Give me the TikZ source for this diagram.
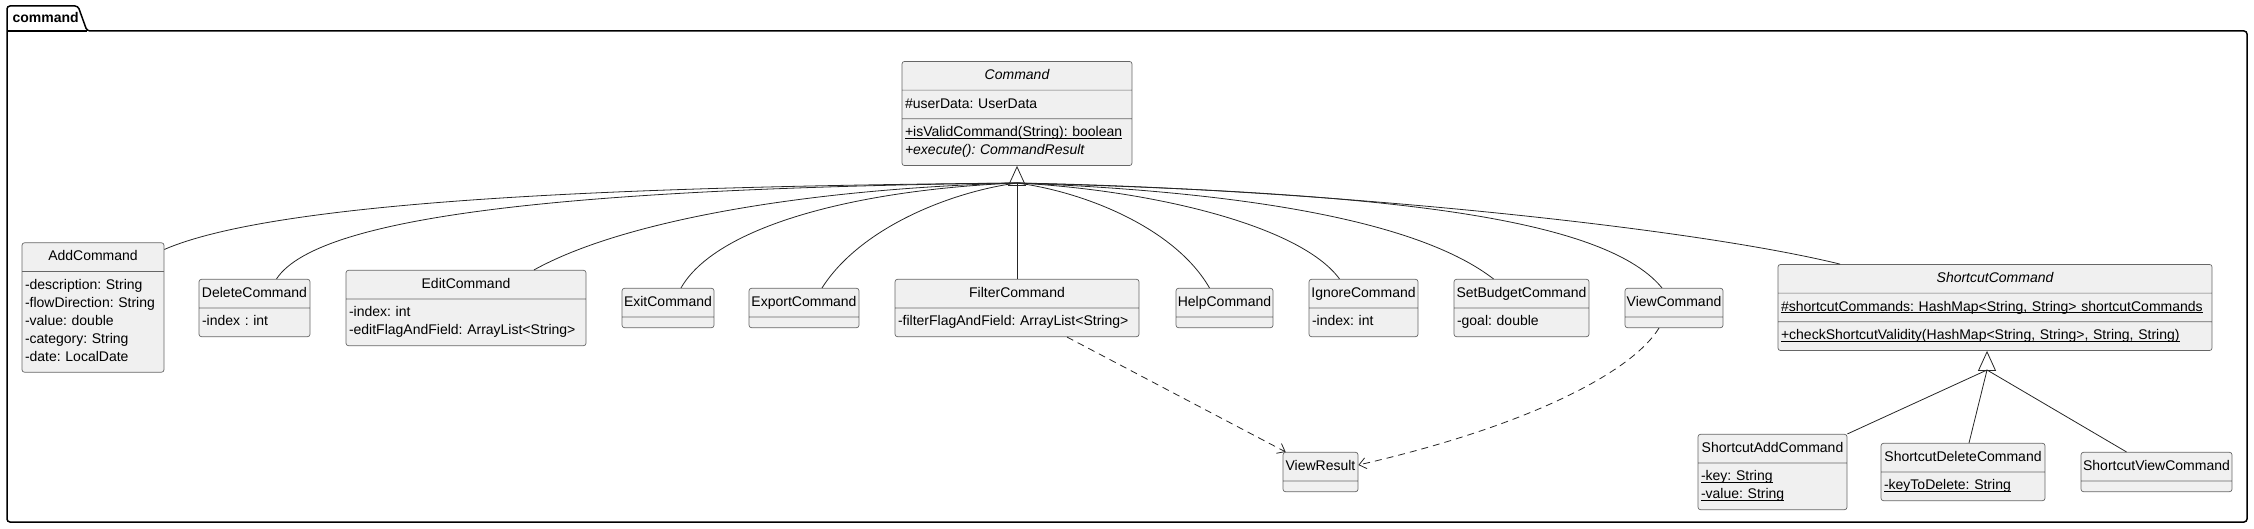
\documentclass[tikz,border=0pt]{standalone}
\usepackage{fontspec}
\setmainfont{Liberation Sans}
\usetikzlibrary{shapes.multipart,arrows.meta}
\frenchspacing

\newcommand{\ttl}[1]{\makebox[\linewidth]{\strut #1}}
\newcommand{\stc}[1]{\underline{\smash{#1}}}

\begin{document}
\begin{tikzpicture}[x=1pt,y=-1pt,>={Straight Barb[length=7pt,width=11pt]}]
	\tikzstyle{cls}=[rectangle split,rectangle split parts=2,draw=black!60,line width=0.7pt,fill=black!6,rounded corners=2.5pt,inner xsep=3pt,inner ysep=5pt,align=left,font=\fontsize{14pt}{18pt}\selectfont]
	\tikzstyle{cls3}=[cls,rectangle split parts=3]
	\tikzstyle{inh}=[draw=black!85,line width=0.8pt]
	\tikzstyle{gen}=[inh,-{Triangle[open,length=20pt,width=18pt]}]
	\tikzstyle{dep}=[inh,dash pattern=on 7pt off 5pt,->]
	\tikzstyle{pkg}=[line width=1.5pt,rounded corners=3pt]

	\useasboundingbox (0,0) rectangle (2254,529);

	% package frame
	\draw[pkg] (87,31) -- (78,6) -- (7,6) -- (7,522) -- (2247,522) -- (2247,31) -- cycle;
	\draw[line width=1.5pt] (7,31) -- (87,31);
	\node[anchor=west,font=\bfseries\fontsize{14pt}{16pt}\selectfont] (pkg) at (9,18) {command};

	\node[cls3,text width=224pt] (Command) at (1017,113.5)
	{
		\ttl{\itshape Command}
		\nodepart{second}\strut\#userData: UserData
		\nodepart{third}\strut\stc{+isValidCommand(String): boolean}\\
		\strut\itshape +execute(): CommandResult
	};

	\node[cls,text width=136pt] (AddCommand) at (93,307.5)
	{
		\ttl{AddCommand}
		\nodepart{second}\strut-description: String\\ \strut-flowDirection: String\\
		\strut-value: double\\ \strut-category: String\\ \strut-date: LocalDate
	};
	\node[cls,text width=105pt] (DeleteCommand) at (254.5,308) {\ttl{DeleteCommand}\nodepart{second}\strut-index : int};
	\node[cls,text width=234pt] (EditCommand) at (466,308)
	{
		\ttl{EditCommand}
		\nodepart{second}\strut-index: int\\ \strut-editFlagAndField: ArrayList<String>
	};
	\node[cls,text width=86pt] (ExitCommand) at (668,308) {\ttl{ExitCommand}\nodepart{second}};
	\node[cls,text width=104pt] (ExportCommand) at (804,308) {\ttl{ExportCommand}\nodepart{second}};
	\node[cls,text width=238pt] (FilterCommand) at (1017,308) {\ttl{FilterCommand}\nodepart{second}\strut-filterFlagAndField: ArrayList<String>};
	\node[cls,text width=91pt] (HelpCommand) at (1224.5,308) {\ttl{HelpCommand}\nodepart{second}};
	\node[cls,text width=103pt] (IgnoreCommand) at (1363.5,308) {\ttl{IgnoreCommand}\nodepart{second}\strut-index: int};
	\node[cls,text width=129pt] (SetBudgetCommand) at (1521.5,308) {\ttl{SetBudgetCommand}\nodepart{second}\strut-goal: double};
	\node[cls,text width=92pt] (ViewCommand) at (1674,308) {\ttl{ViewCommand}\nodepart{second}};
	\node[cls3,text width=428pt] (ShortcutCommand) at (1995,307.5)
	{
		\ttl{\itshape ShortcutCommand}
		\nodepart{second}\strut\stc{\#shortcutCommands: HashMap<String, String> shortcutCommands}
		\nodepart{third}\strut\stc{+checkShortcutValidity(HashMap<String, String>, String, String)}
	};

	\node[cls,text width=69pt] (ViewResult) at (1320.5,472) {\ttl{ViewResult}\nodepart{second}};
	\node[cls,text width=143pt] (ShortcutAddCommand) at (1772.5,472)
	{
		\ttl{ShortcutAddCommand}
		\nodepart{second}\strut\stc{-key: String}\\ \strut\stc{-value: String}
	};
	\node[cls,text width=158pt] (ShortcutDeleteCommand) at (1963,472) {\ttl{ShortcutDeleteCommand}\nodepart{second}\strut\stc{-keyToDelete: String}};
	\node[cls,text width=145pt] (ShortcutViewCommand) at (2156.5,472) {\ttl{ShortcutViewCommand}\nodepart{second}};

	% inheritance
	\coordinate (cmdbase) at (1017,183);
	\coordinate (scbase) at (1987,370);
	\draw[gen] (cmdbase) -- (Command.south);
	\draw[gen] (scbase) -- (scbase |- ShortcutCommand.south);

	\draw[inh] ([yshift=-7pt]AddCommand.north east) .. controls (290,195) and (700,186) .. (cmdbase);
	\draw[inh] ([xshift=22pt]DeleteCommand.north) .. controls (320,212) and (600,188) .. (cmdbase);
	\draw[inh] ([xshift=68pt]EditCommand.north) .. controls (620,222) and (800,189) .. (cmdbase);
	\draw[inh] ([xshift=13pt]ExitCommand.north) .. controls (715,228) and (850,190) .. (cmdbase);
	\draw[inh] ([xshift=18pt]ExportCommand.north) .. controls (860,228) and (950,192) .. (cmdbase);
	\draw[inh] (FilterCommand.north) -- (cmdbase);
	\draw[inh] ([xshift=-15pt]HelpCommand.north) .. controls (1175,228) and (1085,192) .. (cmdbase);
	\draw[inh] ([xshift=-24pt]IgnoreCommand.north) .. controls (1300,225) and (1150,190) .. (cmdbase);
	\draw[inh] ([xshift=-28pt]SetBudgetCommand.north) .. controls (1420,222) and (1250,192) .. (cmdbase);
	\draw[inh] ([xshift=-12pt]ViewCommand.north) .. controls (1600,212) and (1350,192) .. (cmdbase);
	\draw[inh] ([xshift=-155pt]ShortcutCommand.north) .. controls (1680,225) and (1300,188) .. (cmdbase);

	\draw[inh] (ShortcutAddCommand.north east) -- (scbase);
	\draw[inh] ([xshift=6pt]ShortcutDeleteCommand.north) -- (scbase);
	\draw[inh] ([xshift=-30pt]ShortcutViewCommand.north) -- (scbase);

	% dependencies
	\draw[dep] ([xshift=50pt]FilterCommand.south) -- ([xshift=3pt]ViewResult.north west);
	\draw[dep] ([xshift=-15pt]ViewCommand.south) .. controls (1630,375) and (1520,428) .. ([yshift=7pt]ViewResult.east);
\end{tikzpicture}
\end{document}
